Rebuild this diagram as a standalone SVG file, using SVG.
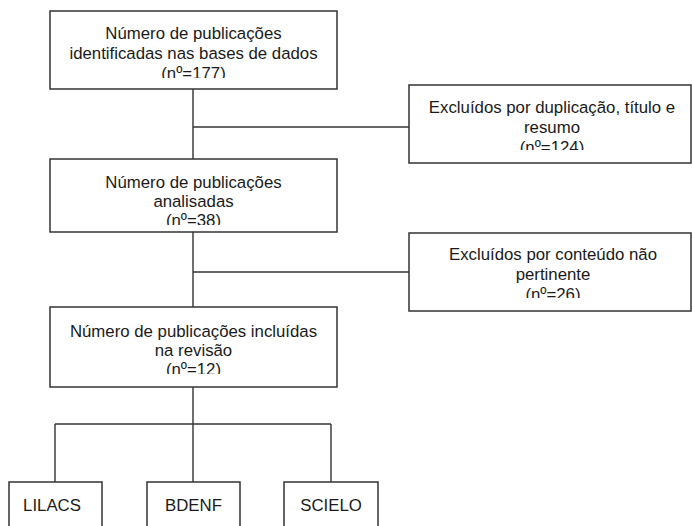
<svg xmlns="http://www.w3.org/2000/svg" width="692" height="526" viewBox="0 0 692 526">
<style>
.box{fill:#fff;stroke:#333;stroke-width:1.5}
.t{font-family:"Liberation Sans",Arial,sans-serif;font-size:16.8px;fill:#1a1a1a;text-anchor:middle}
.c{fill:none;stroke:#333;stroke-width:1.4}
</style>
<defs>
<clipPath id="cp1"><rect x="50" y="11" width="287" height="67"/></clipPath>
<clipPath id="cp2"><rect x="409" y="85" width="283" height="65"/></clipPath>
<clipPath id="cp3"><rect x="50" y="159" width="287" height="66"/></clipPath>
<clipPath id="cp4"><rect x="409" y="233" width="283" height="65"/></clipPath>
<clipPath id="cp5"><rect x="50" y="307" width="287" height="67"/></clipPath>
</defs>
<rect width="692" height="526" fill="#fff"/>
<g id="connectors">
<path class="c" d="M193 89V159"/>
<path class="c" d="M193 127H409"/>
<path class="c" d="M193 232V307"/>
<path class="c" d="M193 272H409"/>
<path class="c" d="M193 387V482"/>
<path class="c" d="M55 424H331"/>
<path class="c" d="M55 424V482"/>
<path class="c" d="M331 424V482"/>
</g>
<g id="n1">
<rect class="box" x="50" y="11" width="287" height="78"/>
<g clip-path="url(#cp1)">
<text class="t" x="193.5" y="39">Número de publicações</text>
<text class="t" x="193.5" y="59">identificadas nas bases de dados</text>
<text class="t" x="193.5" y="79">(nº=177)</text>
</g>
</g>
<g id="n2">
<rect class="box" x="409" y="85" width="282" height="78"/>
<g clip-path="url(#cp2)">
<text class="t" x="552" y="113">Excluídos por duplicação, título e</text>
<text class="t" x="552" y="133">resumo</text>
<text class="t" x="552" y="153">(nº=124)</text>
</g>
</g>
<g id="n3">
<rect class="box" x="50" y="159" width="287" height="73"/>
<g clip-path="url(#cp3)">
<text class="t" x="193.5" y="188">Número de publicações</text>
<text class="t" x="193.5" y="207">analisadas</text>
<text class="t" x="193.5" y="226">(nº=38)</text>
</g>
</g>
<g id="n4">
<rect class="box" x="409" y="233" width="282" height="78"/>
<g clip-path="url(#cp4)">
<text class="t" x="553" y="260">Excluídos por conteúdo não</text>
<text class="t" x="553" y="280">pertinente</text>
<text class="t" x="553" y="300">(nº=26)</text>
</g>
</g>
<g id="n5">
<rect class="box" x="50" y="307" width="287" height="80"/>
<g clip-path="url(#cp5)">
<text class="t" x="193.5" y="337">Número de publicações incluídas</text>
<text class="t" x="193.5" y="356">na revisão</text>
<text class="t" x="193.5" y="375">(nº=12)</text>
</g>
</g>
<g id="n6">
<rect class="box" x="9" y="482" width="93" height="60"/>
<text class="t" x="52" y="511">LILACS</text>
</g>
<g id="n7">
<rect class="box" x="147" y="482" width="93" height="60"/>
<text class="t" x="193.5" y="511">BDENF</text>
</g>
<g id="n8">
<rect class="box" x="284" y="482" width="94" height="60"/>
<text class="t" x="331" y="511">SCIELO</text>
</g>
</svg>
